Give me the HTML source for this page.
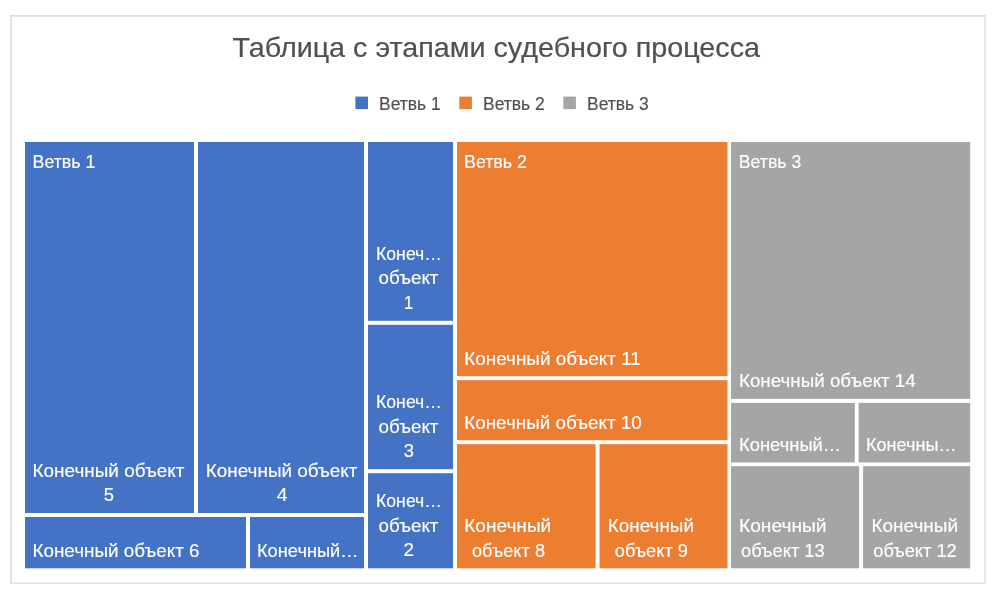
<!DOCTYPE html>
<html lang="ru"><head><meta charset="utf-8"><title>Таблица с этапами судебного процесса</title>
<style>html,body{margin:0;padding:0;background:#fff;overflow:hidden}svg{display:block;filter:blur(0.4px);font-family:"Liberation Sans",sans-serif}</style></head><body>
<svg width="999" height="596" viewBox="0 0 999 596">
<rect x="0" y="0" width="999" height="596" fill="#fff"/>
<path d="M11 584.1V15.9H985.8" fill="none" stroke="#DCDCDC" stroke-width="1.6"/>
<path d="M985 15.1V583.3H10.2" fill="none" stroke="#E4E4E4" stroke-width="1.6"/>
<rect x="25" y="142" width="169" height="371" fill="#4472C4"/>
<rect x="198" y="142" width="166" height="371" fill="#4472C4"/>
<rect x="25" y="517" width="221" height="51.3" fill="#4472C4"/>
<rect x="250" y="517" width="114" height="51.3" fill="#4472C4"/>
<rect x="368" y="142" width="85" height="178.8" fill="#4472C4"/>
<rect x="368" y="324.8" width="85" height="144.4" fill="#4472C4"/>
<rect x="368" y="473.2" width="85" height="95.1" fill="#4472C4"/>
<rect x="457.0" y="142" width="270.5" height="234.2" fill="#ED7D31"/>
<rect x="457.0" y="380.2" width="270.5" height="60.0" fill="#ED7D31"/>
<rect x="457.0" y="444.2" width="138.6" height="124.1" fill="#ED7D31"/>
<rect x="599.5" y="444.2" width="128.0" height="124.1" fill="#ED7D31"/>
<rect x="731" y="142" width="239.2" height="256.9" fill="#A5A5A5"/>
<rect x="731" y="402.9" width="123.8" height="59.5" fill="#A5A5A5"/>
<rect x="858.6" y="402.9" width="111.6" height="59.5" fill="#A5A5A5"/>
<rect x="731" y="466.2" width="128.1" height="102.1" fill="#A5A5A5"/>
<rect x="863.1" y="466.2" width="107.1" height="102.1" fill="#A5A5A5"/>
<rect x="355.4" y="96.6" width="12.6" height="12.5" fill="#4472C4"/>
<rect x="459.3" y="96.6" width="12.6" height="12.5" fill="#ED7D31"/>
<rect x="563.3" y="96.6" width="12.6" height="12.5" fill="#A5A5A5"/>
<text id="t0" x="232.5" y="57.3" font-size="28.5" fill="#505050" stroke="#505050" stroke-width="0.2" textLength="527.5" lengthAdjust="spacingAndGlyphs">Таблица с этапами судебного процесса</text>
<text id="t1" x="379.0" y="109.8" font-size="17.6" fill="#505050" stroke="#505050" stroke-width="0.15" textLength="61.75" lengthAdjust="spacingAndGlyphs">Ветвь 1</text>
<text id="t2" x="483.0" y="109.8" font-size="17.6" fill="#505050" stroke="#505050" stroke-width="0.15" textLength="61.75" lengthAdjust="spacingAndGlyphs">Ветвь 2</text>
<text id="t3" x="587.0" y="109.8" font-size="17.6" fill="#505050" stroke="#505050" stroke-width="0.15" textLength="61.75" lengthAdjust="spacingAndGlyphs">Ветвь 3</text>
<text id="t4" x="32.5" y="168.3" font-size="17.6" fill="#fff" stroke="#fff" stroke-width="0.15" textLength="63.0" lengthAdjust="spacingAndGlyphs">Ветвь 1</text>
<text id="t5" x="464.0" y="168.3" font-size="17.6" fill="#fff" stroke="#fff" stroke-width="0.15" textLength="63.0" lengthAdjust="spacingAndGlyphs">Ветвь 2</text>
<text id="t6" x="738.75" y="168.3" font-size="17.6" fill="#fff" stroke="#fff" stroke-width="0.15" textLength="62.5" lengthAdjust="spacingAndGlyphs">Ветвь 3</text>
<text id="t7" x="32.5" y="476.7" font-size="17.6" fill="#fff" stroke="#fff" stroke-width="0.15" textLength="152.0" lengthAdjust="spacingAndGlyphs">Конечный объект</text>
<text id="t8" x="103.75" y="501.2" font-size="17.6" fill="#fff" stroke="#fff" stroke-width="0.15" textLength="10.25" lengthAdjust="spacingAndGlyphs">5</text>
<text id="t9" x="205.75" y="476.7" font-size="17.6" fill="#fff" stroke="#fff" stroke-width="0.15" textLength="151.75" lengthAdjust="spacingAndGlyphs">Конечный объект</text>
<text id="t10" x="276.75" y="501.2" font-size="17.6" fill="#fff" stroke="#fff" stroke-width="0.15" textLength="10.75" lengthAdjust="spacingAndGlyphs">4</text>
<text id="t11" x="32.5" y="556.7" font-size="17.6" fill="#fff" stroke="#fff" stroke-width="0.15" textLength="167.0" lengthAdjust="spacingAndGlyphs">Конечный объект 6</text>
<text id="t12" x="257.0" y="556.7" font-size="17.6" fill="#fff" stroke="#fff" stroke-width="0.15" textLength="101.5" lengthAdjust="spacingAndGlyphs">Конечный…</text>
<text id="t13" x="376.0" y="260.0" font-size="17.6" fill="#fff" stroke="#fff" stroke-width="0.15" textLength="66.0" lengthAdjust="spacingAndGlyphs">Конеч…</text>
<text id="t14" x="378.5" y="284.3" font-size="17.6" fill="#fff" stroke="#fff" stroke-width="0.15" textLength="60.0" lengthAdjust="spacingAndGlyphs">объект</text>
<text id="t15" x="404.0" y="308.6" font-size="17.6" fill="#fff" stroke="#fff" stroke-width="0.15" textLength="9.25" lengthAdjust="spacingAndGlyphs">1</text>
<text id="t16" x="376.0" y="408.4" font-size="17.6" fill="#fff" stroke="#fff" stroke-width="0.15" textLength="66.0" lengthAdjust="spacingAndGlyphs">Конеч…</text>
<text id="t17" x="378.5" y="432.8" font-size="17.6" fill="#fff" stroke="#fff" stroke-width="0.15" textLength="60.0" lengthAdjust="spacingAndGlyphs">объект</text>
<text id="t18" x="403.75" y="457.2" font-size="17.6" fill="#fff" stroke="#fff" stroke-width="0.15" textLength="10.25" lengthAdjust="spacingAndGlyphs">3</text>
<text id="t19" x="376.0" y="507.3" font-size="17.6" fill="#fff" stroke="#fff" stroke-width="0.15" textLength="66.0" lengthAdjust="spacingAndGlyphs">Конеч…</text>
<text id="t20" x="378.5" y="531.7" font-size="17.6" fill="#fff" stroke="#fff" stroke-width="0.15" textLength="60.0" lengthAdjust="spacingAndGlyphs">объект</text>
<text id="t21" x="403.5" y="556.2" font-size="17.6" fill="#fff" stroke="#fff" stroke-width="0.15" textLength="10.5" lengthAdjust="spacingAndGlyphs">2</text>
<text id="t22" x="464.25" y="365.0" font-size="17.6" fill="#fff" stroke="#fff" stroke-width="0.15" textLength="176.5" lengthAdjust="spacingAndGlyphs">Конечный объект 11</text>
<text id="t23" x="464.25" y="429.0" font-size="17.6" fill="#fff" stroke="#fff" stroke-width="0.15" textLength="177.5" lengthAdjust="spacingAndGlyphs">Конечный объект 10</text>
<text id="t24" x="464.25" y="532.3" font-size="17.6" fill="#fff" stroke="#fff" stroke-width="0.15" textLength="87.0" lengthAdjust="spacingAndGlyphs">Конечный</text>
<text id="t25" x="472.0" y="556.7" font-size="17.6" fill="#fff" stroke="#fff" stroke-width="0.15" textLength="73.0" lengthAdjust="spacingAndGlyphs">объект 8</text>
<text id="t26" x="607.75" y="532.3" font-size="17.6" fill="#fff" stroke="#fff" stroke-width="0.15" textLength="86.25" lengthAdjust="spacingAndGlyphs">Конечный</text>
<text id="t27" x="614.75" y="556.7" font-size="17.6" fill="#fff" stroke="#fff" stroke-width="0.15" textLength="73.25" lengthAdjust="spacingAndGlyphs">объект 9</text>
<text id="t28" x="739.0" y="387.2" font-size="17.6" fill="#fff" stroke="#fff" stroke-width="0.15" textLength="176.75" lengthAdjust="spacingAndGlyphs">Конечный объект 14</text>
<text id="t29" x="739.0" y="451.0" font-size="17.6" fill="#fff" stroke="#fff" stroke-width="0.15" textLength="102.25" lengthAdjust="spacingAndGlyphs">Конечный…</text>
<text id="t30" x="866.0" y="451.0" font-size="17.6" fill="#fff" stroke="#fff" stroke-width="0.15" textLength="90.5" lengthAdjust="spacingAndGlyphs">Конечны…</text>
<text id="t31" x="739.0" y="532.3" font-size="17.6" fill="#fff" stroke="#fff" stroke-width="0.15" textLength="87.5" lengthAdjust="spacingAndGlyphs">Конечный</text>
<text id="t32" x="741.0" y="556.7" font-size="17.6" fill="#fff" stroke="#fff" stroke-width="0.15" textLength="83.75" lengthAdjust="spacingAndGlyphs">объект 13</text>
<text id="t33" x="871.5" y="532.3" font-size="17.6" fill="#fff" stroke="#fff" stroke-width="0.15" textLength="86.5" lengthAdjust="spacingAndGlyphs">Конечный</text>
<text id="t34" x="873.25" y="556.7" font-size="17.6" fill="#fff" stroke="#fff" stroke-width="0.15" textLength="83.5" lengthAdjust="spacingAndGlyphs">объект 12</text>
</svg></body></html>
